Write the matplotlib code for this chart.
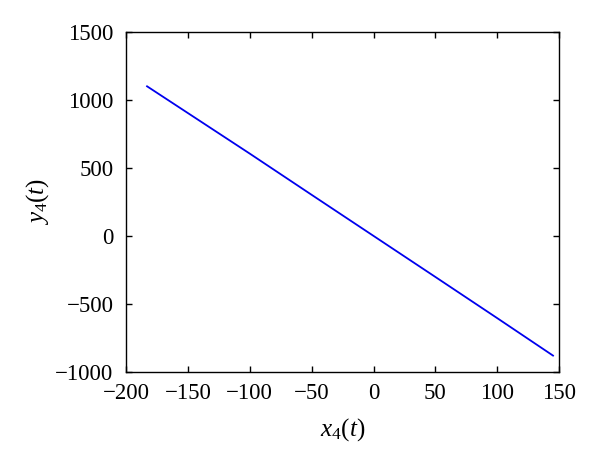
import matplotlib
matplotlib.use("Agg")
import matplotlib.pyplot as plt
import numpy as np

# trajectory
x4 = [-183, -100, -50, 0, 50, 100, 145]
y4 = [1100, 605, 302, 0, -302, -605, -880]

x_ticks = [-200, -150, -100, -50, 0, 50, 100, 150]
y_ticks = [-1000, -500, 0, 500, 1000, 1500]

plt.rcParams['font.family'] = ['Liberation Serif', 'DejaVu Serif']
plt.rcParams['mathtext.fontset'] = 'custom'
plt.rcParams['mathtext.rm'] = 'Liberation Serif'
plt.rcParams['mathtext.it'] = 'Liberation Serif:italic'

fig, ax = plt.subplots(figsize=(6.0, 4.69), dpi=100)
fig.subplots_adjust(left=0.21, right=0.932, top=0.932, bottom=0.207)

ax.plot(x4, y4, color='#0000ee', linewidth=1.3)

ax.set_xlim(-200, 150)
ax.set_ylim(-1000, 1500)
ax.set_xticks(x_ticks)
ax.set_yticks(y_ticks)
ax.set_xticklabels([str(v).replace('-', '\u2212') for v in x_ticks])
ax.set_yticklabels([str(v).replace('-', '\u2212') for v in y_ticks])
ax.tick_params(direction='in', top=True, right=True, labelsize=16.5, length=4, width=1)
ax.tick_params(axis='x', pad=8)
ax.tick_params(axis='y', pad=9)
for s in ax.spines.values():
    s.set_linewidth(1)

ax.set_xlabel(r'$x_4(t)$', fontsize=18, labelpad=9)
ax.set_ylabel(r'$y_4(t)$', fontsize=18, labelpad=3)

fig.savefig("out.png", dpi=100)
